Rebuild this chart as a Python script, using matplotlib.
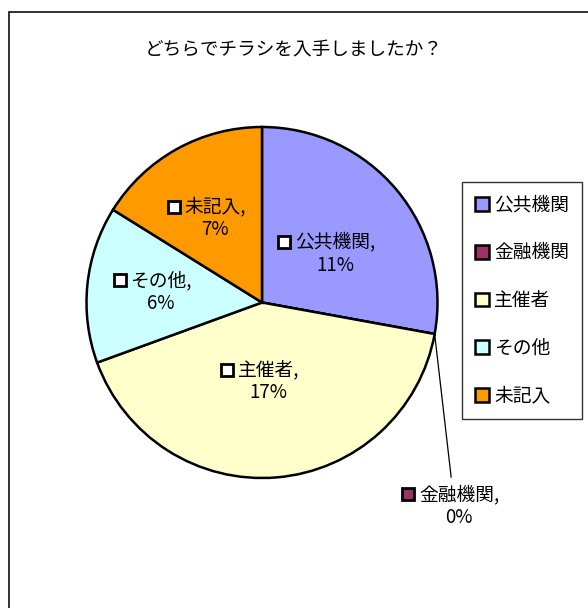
import matplotlib
matplotlib.use('Agg')
import matplotlib.pyplot as plt
import numpy as np
from matplotlib.patches import Rectangle

plt.rcParams['font.family'] = ['Noto Sans CJK JP', 'DejaVu Sans']

# data
title = 'どちらでチラシを入手しましたか？'
categories = ['公共機関', '金融機関', '主催者', 'その他', '未記入']
values = [11.4, 0.0, 17.0, 5.9, 6.6]
colors = ['#9999FF', '#993366', '#FFFFCC', '#CCFFFF', '#FF9900']

# label placement (fraction of radius, angle tweak in deg), None = outside
label_dist = [0.50, None, 0.45, 0.58, 0.55]
label_turn = [-6, 0, 0, 0, 0]
leader_offset = (0.094, -0.815)

W, H = 588, 608
fig = plt.figure(figsize=(W / 100, H / 100), dpi=100)

# outer chart frame (cut off at right/bottom like the original)
fig.patches.append(Rectangle((9 / W, -0.1), 1.2, (H - 12) / H + 0.1,
                             transform=fig.transFigure, fill=False,
                             edgecolor='#222222', linewidth=1.3))

fig.text(293.5 / W, 1 - 50 / H, title, ha='center', va='center', fontsize=13.4)

# pie axes: centre (262, 302.5) px, radius 175.5 px
R = 175.5
ax = fig.add_axes([(262 - R) / W, (H - 302.5 - R) / H, 2 * R / W, 2 * R / H])
wedges, _ = ax.pie(values, colors=colors, startangle=90, counterclock=False,
                   wedgeprops=dict(edgecolor='black', linewidth=1.8))
ax.set_xlim(-1, 1)
ax.set_ylim(-1, 1)
ax.axis('off')

dy = 11.5 / R
fs = 13.5
total = sum(values)
texts = []
for i, w in enumerate(wedges):
    mid = np.deg2rad((w.theta1 + w.theta2) / 2 + label_turn[i])
    pct = '%.0f%%' % (values[i] / total * 41)
    if label_dist[i] is not None:
        x = label_dist[i] * np.cos(mid)
        y = label_dist[i] * np.sin(mid)
        keyface = 'white'
    else:
        ex, ey = np.cos(mid), np.sin(mid)
        lx, ly = ex + leader_offset[0], ey + leader_offset[1]
        ax.plot([ex, lx], [ey, ly], color='black', linewidth=0.9, clip_on=False)
        x, y = lx + 0.045, ly - 0.165
        keyface = colors[i]
    t1 = ax.text(x, y + dy, categories[i] + ',', ha='center', va='center',
                 fontsize=fs, clip_on=False)
    ax.text(x, y - dy, pct, ha='center', va='center', fontsize=fs, clip_on=False)
    texts.append((t1, keyface))

# legend keys in front of the labels
fig.canvas.draw()
renderer = fig.canvas.get_renderer()
inv = ax.transData.inverted()
for t1, keyface in texts:
    bb = t1.get_window_extent(renderer)
    kx, ky = inv.transform((bb.x0 - 10.5, (bb.y0 + bb.y1) / 2))
    ax.plot([kx], [ky], marker='s', markersize=8.3, markerfacecolor=keyface,
            markeredgecolor='black', markeredgewidth=2, clip_on=False)

leg = fig.legend(wedges, categories, loc='upper left',
                 bbox_to_anchor=(462 / W, 1 - 182 / H), borderaxespad=0,
                 fontsize=fs, frameon=True, fancybox=False, edgecolor='black',
                 handlelength=0.75, handleheight=0.75, handletextpad=0.3,
                 labelspacing=1.42, borderpad=0.68)
leg.get_frame().set_linewidth(1.0)

fig.savefig('out.png', dpi=100)
